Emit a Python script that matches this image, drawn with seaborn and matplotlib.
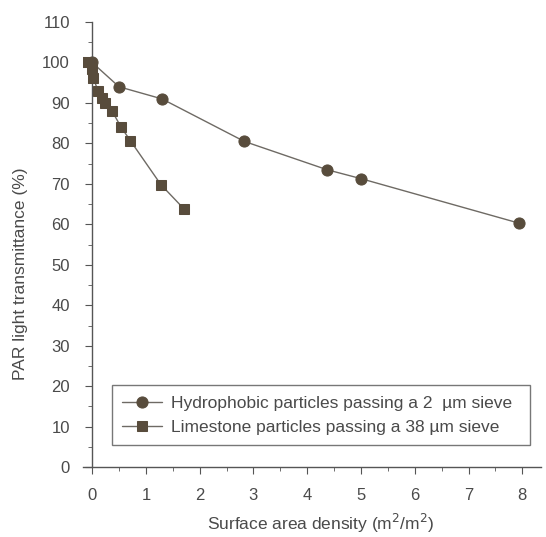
import numpy as np
import pandas as pd
import matplotlib
matplotlib.use("Agg")
import matplotlib.pyplot as plt
import seaborn as sns
from matplotlib.ticker import MultipleLocator

# hydrophobic particles (2 um sieve)
hydro_x = [0.0, 0.5, 1.3, 2.83, 4.37, 5.0, 7.94]
hydro_y = [100, 94, 91, 80.5, 73.5, 71.3, 60.3]

# limestone particles (38 um sieve)
lime_x = [-0.1, 0.0, 0.02, 0.11, 0.19, 0.24, 0.37, 0.54, 0.71, 1.28, 1.71]
lime_y = [100, 98.3, 96.2, 93, 91.2, 90, 88, 84, 80.7, 69.8, 63.8]

hydro_label = "Hydrophobic particles passing a 2  \u00b5m sieve"
lime_label = "Limestone particles passing a 38 \u00b5m sieve"

sns.set_style("ticks")
plt.rcParams['font.family'] = ['Liberation Sans', 'DejaVu Sans']

text_col = '#4a4a4a'
mark_col = '#584c3c'
line_col = '#6e6a64'

fig = plt.figure(figsize=(5.46, 5.37), dpi=100)
ax = fig.add_axes([0.152, 0.130, 0.839, 0.829])

df_h = pd.DataFrame({'x': hydro_x, 'y': hydro_y})
df_l = pd.DataFrame({'x': lime_x, 'y': lime_y})

sns.lineplot(data=df_h, x='x', y='y', ax=ax, sort=False, color=line_col, lw=1.0,
             marker='o', markersize=8, markerfacecolor=mark_col,
             markeredgecolor=mark_col, label=hydro_label, zorder=2)
sns.lineplot(data=df_l, x='x', y='y', ax=ax, sort=False, color=line_col, lw=1.0,
             marker='s', markersize=7, markerfacecolor=mark_col,
             markeredgecolor=mark_col, label=lime_label, zorder=3)

ax.set_xlim(-0.17, 8.35)
ax.set_ylim(0, 110)
ax.spines['left'].set_position(('data', 0))
ax.spines['top'].set_visible(False)
ax.spines['right'].set_visible(False)
for s in ['left', 'bottom']:
    ax.spines[s].set_color('#555555')
    ax.spines[s].set_linewidth(1.0)

ax.xaxis.set_major_locator(MultipleLocator(1))
ax.xaxis.set_minor_locator(MultipleLocator(0.5))
ax.yaxis.set_major_locator(MultipleLocator(10))
ax.yaxis.set_minor_locator(MultipleLocator(5))
ax.tick_params(which='major', direction='out', length=5, color='#555555',
               labelsize=12, labelcolor=text_col)
ax.tick_params(axis='x', which='major', pad=10)
ax.tick_params(axis='y', which='major', pad=11)
ax.tick_params(which='minor', direction='out', length=3, color='#555555')

ax.set_xlabel("Surface area density (m$^2$/m$^2$)", fontsize=12.5, color=text_col)
ax.set_ylabel("PAR light transmittance (%)", fontsize=12.5, color=text_col)
ax.xaxis.set_label_coords(321 / 546, 25 / 537, transform=fig.transFigure)
ax.yaxis.set_label_coords(28 / 546, 0.49, transform=fig.transFigure)

leg = ax.legend(loc='lower left', bbox_to_anchor=(112 / 546, 92 / 537, 418 / 546, 60 / 537),
                bbox_transform=fig.transFigure, mode='expand', fontsize=12.5,
                frameon=True, fancybox=False, borderpad=0.6, handlelength=2.3,
                handletextpad=0.5, labelspacing=0.5, borderaxespad=0)
leg.get_frame().set_edgecolor('#555555')
leg.get_frame().set_linewidth(1.0)
for t in leg.get_texts():
    t.set_color(text_col)

fig.savefig("out.png", dpi=100)
